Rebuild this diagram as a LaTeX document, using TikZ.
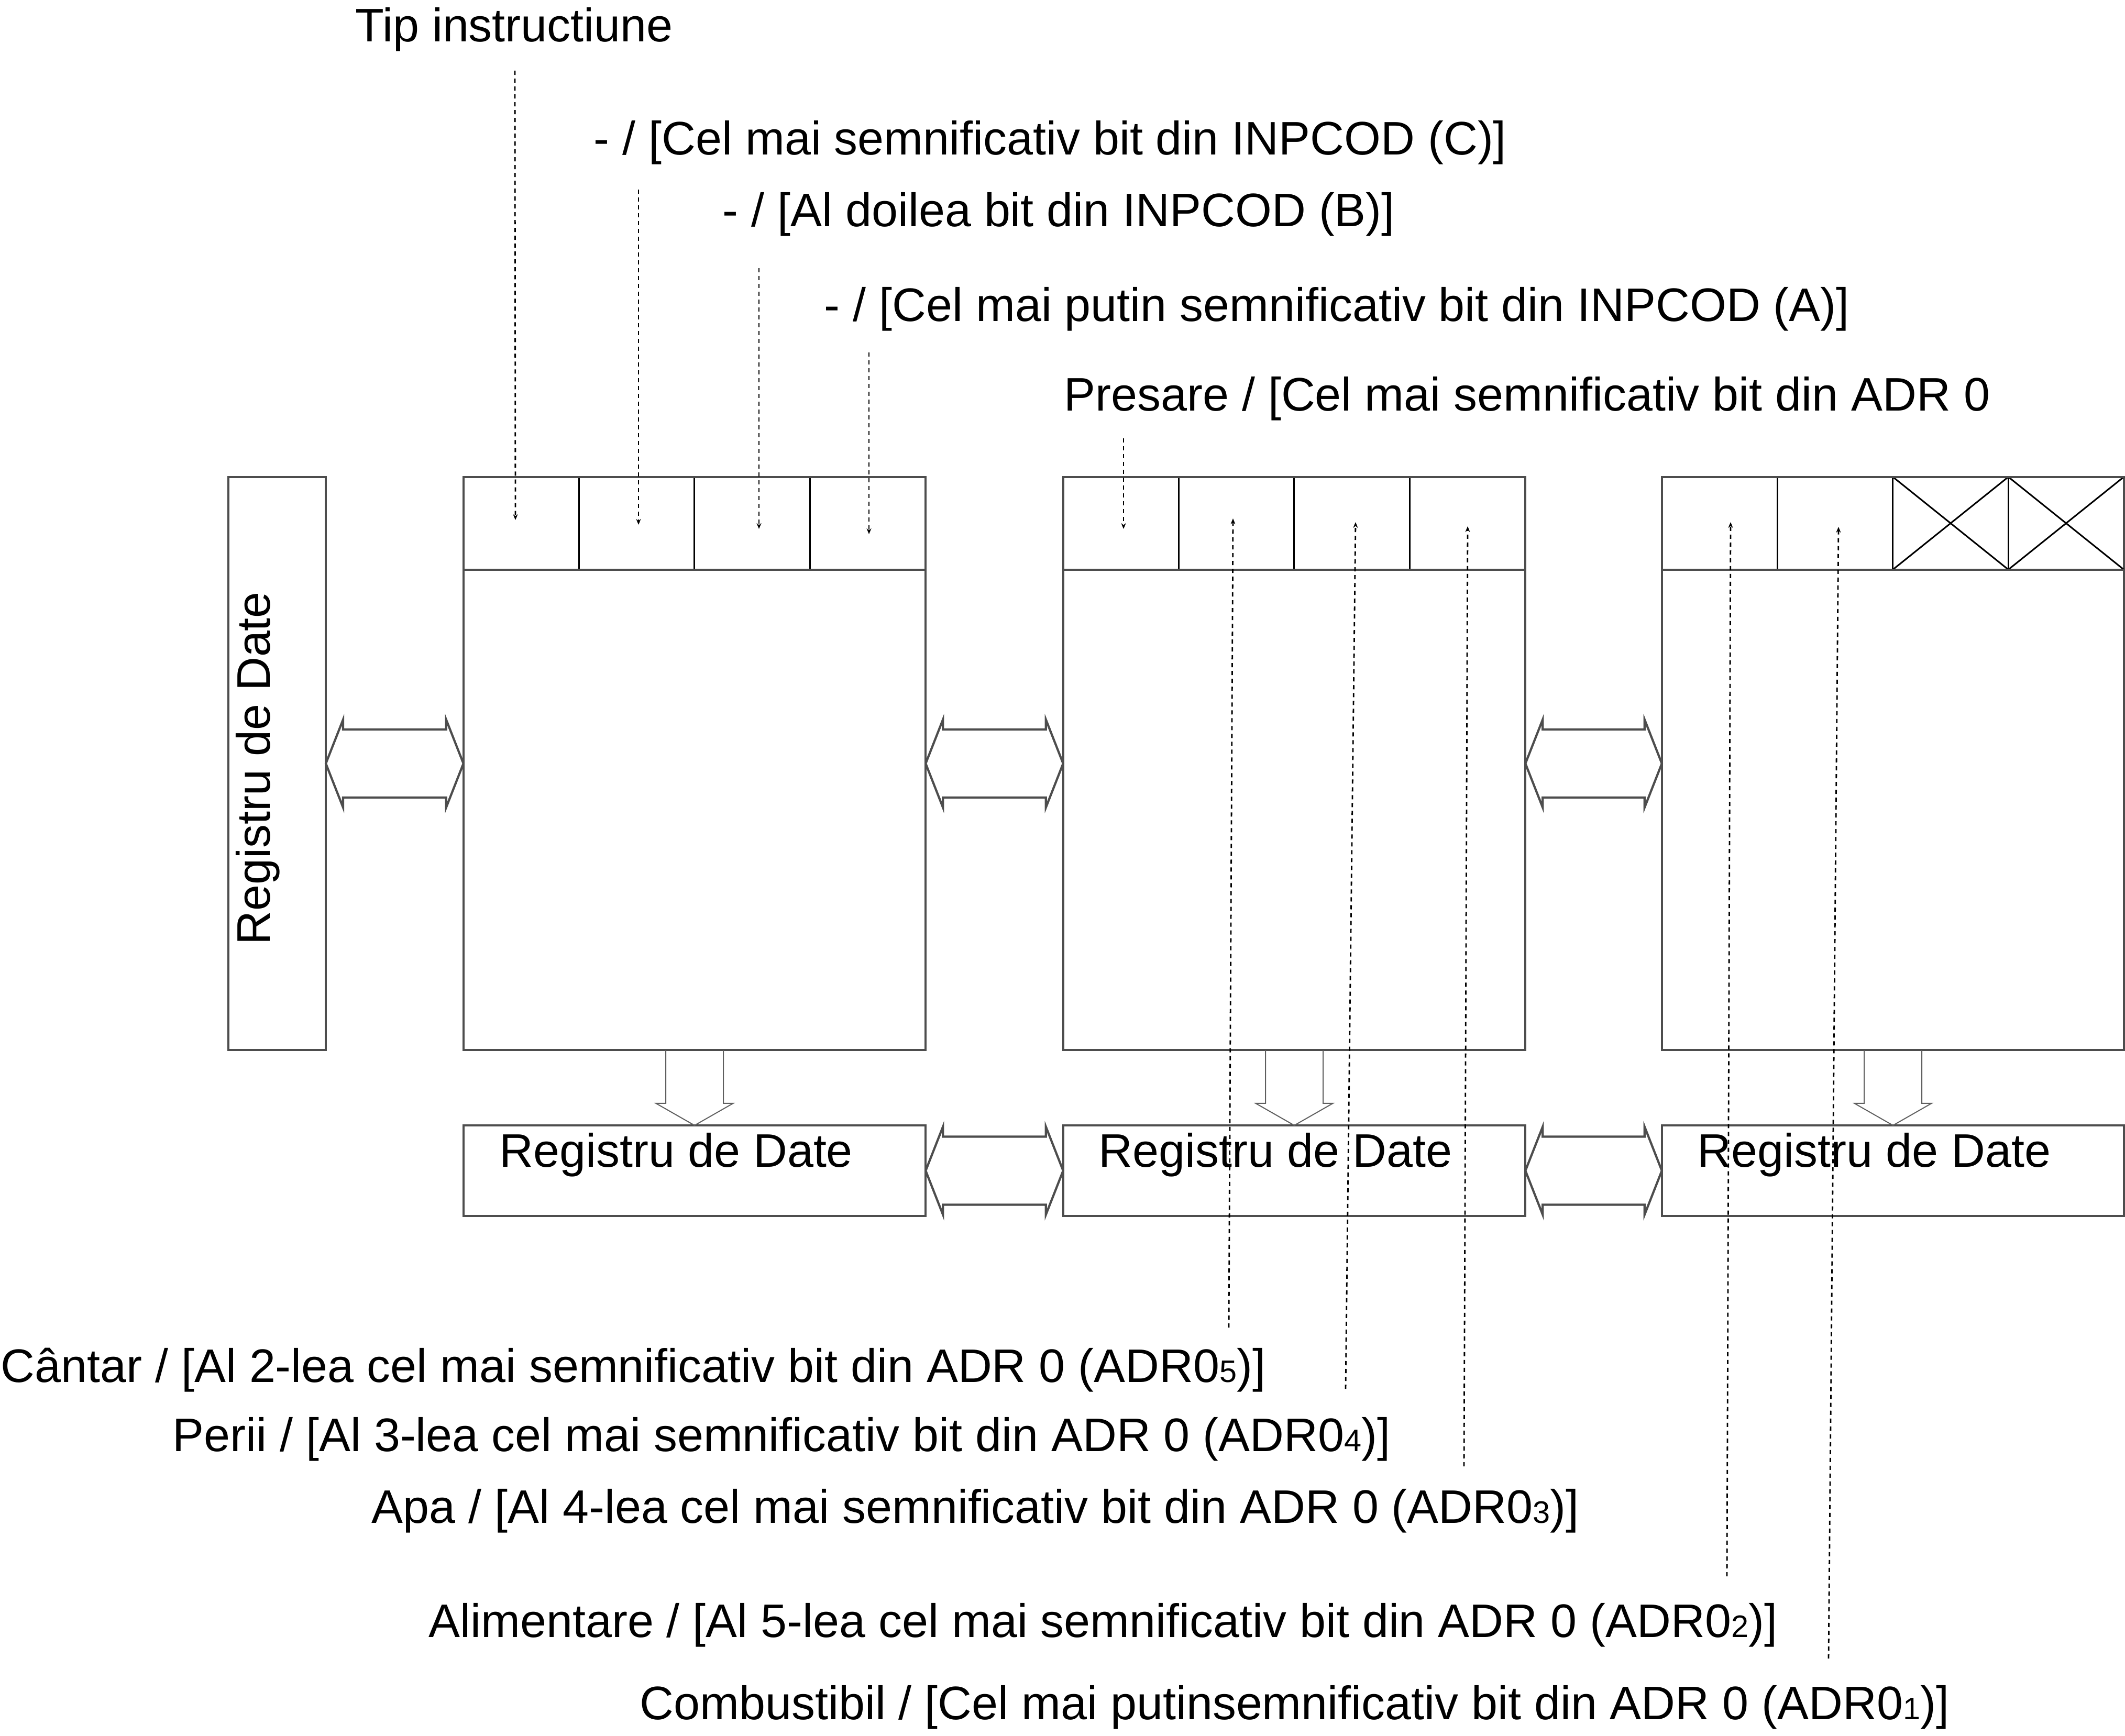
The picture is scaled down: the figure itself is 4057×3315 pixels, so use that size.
\documentclass[tikz,border=0pt]{standalone}
\usepackage{fontspec}
\setmainfont{Liberation Sans}
\usetikzlibrary{arrows.meta,calc}
\definecolor{bgray}{HTML}{4D4D4D}
\newcommand{\lblfont}{\fontsize{25.55}{30}\selectfont}
\newcommand{\subd}[1]{{\fontsize{16.9}{17}\selectfont #1}}
\newcommand{\dblarrow}[2]{\draw[dbl] (#1) -- ([shift={(33,-84)}]#1) -- ([shift={(33,-65)}]#1) -- ([shift={(-33,-65)}]#2) -- ([shift={(-33,-84)}]#2) -- (#2) -- ([shift={(-33,84)}]#2) -- ([shift={(-33,65)}]#2) -- ([shift={(33,65)}]#1) -- ([shift={(33,84)}]#1) -- cycle;}
\newcommand{\blkarrow}[2]{\draw[blk] ([shift={(-55,0)}]#1) -- ([shift={(-55,-42)}]#2) -- ([shift={(-73.5,-42)}]#2) -- (#2) -- ([shift={(73.5,-42)}]#2) -- ([shift={(55,-42)}]#2) -- ([shift={(55,0)}]#1);}
\begin{document}
\begin{tikzpicture}[x=0.01cm, y=-0.01cm,
  box/.style={draw=bgray, line width=0.042cm, inner sep=0, outer sep=0, rectangle},
  cellline/.style={draw=black, line width=0.03cm},
  hdrline/.style={draw=bgray, line width=0.042cm},
  dbl/.style={draw=bgray, line width=0.042cm, line join=miter},
  blk/.style={draw=bgray!90, line width=0.02cm},
  dasharr/.style={draw=black, line width=0.028cm, dash pattern=on 0.08cm off 0.07cm, -{Stealth[length=0.11cm,width=0.09cm]}},
  lbl/.style={font=\lblfont, inner sep=0, anchor=base west},
  boxtext/.style={font=\lblfont, inner sep=0, anchor=base}]
\useasboundingbox (0,0) rectangle (4057,3315);

% main boxes
\node[box, minimum width=1.86cm, minimum height=10.94cm] (lb) at (529,1458) {};
\node[box, minimum width=8.82cm, minimum height=10.94cm] (b1) at (1326,1458) {};
\node[box, minimum width=8.82cm, minimum height=10.94cm] (b2) at (2471,1458) {};
\node[box, minimum width=8.82cm, minimum height=10.94cm] (b3) at (3614,1458) {};
% bottom boxes
\node[box, minimum width=8.82cm, minimum height=1.73cm] (bb1) at (1326,2235.5) {};
\node[box, minimum width=8.82cm, minimum height=1.73cm] (bb2) at (2471,2235.5) {};
\node[box, minimum width=8.82cm, minimum height=1.73cm] (bb3) at (3614,2235.5) {};

% header cells
\foreach \b in {b1,b2,b3}{
  \foreach \k in {1,2,3}{
    \draw[cellline] ($(\b.north west)+(220.5*\k,0)$) -- ($(\b.north west)+(220.5*\k,177)$);
  }
}
\draw[cellline] ($(b3.north west)+(441,0)$) -- ($(b3.north west)+(661.5,177)$);
\draw[cellline] ($(b3.north west)+(661.5,0)$) -- ($(b3.north west)+(441,177)$);
\draw[cellline] ($(b3.north west)+(661.5,0)$) -- ($(b3.north west)+(882,177)$);
\draw[cellline] ($(b3.north west)+(882,0)$) -- ($(b3.north west)+(661.5,177)$);
\foreach \b in {b1,b2,b3}{
  \draw[hdrline] ($(\b.north west)+(0,177)$) -- ($(\b.north east)+(0,177)$);
  \draw[hdrline] (\b.north west) -- (\b.north east);
}

% texts in boxes
\node[boxtext, rotate=90] (lbt) at (515,1467) {Registru de Date};
\node[boxtext] (bt1) at (1291,2228) {Registru de Date};
\node[boxtext] (bt2) at (2435,2228) {Registru de Date};
\node[boxtext] (bt3) at (3578,2228) {Registru de Date};

% double arrows
\dblarrow{lb.east}{b1.west}
\dblarrow{b1.east}{b2.west}
\dblarrow{b2.east}{b3.west}
\dblarrow{bb1.east}{bb2.west}
\dblarrow{bb2.east}{bb3.west}

% block arrows down
\blkarrow{b1.south}{bb1.north}
\blkarrow{b2.south}{bb2.north}
\blkarrow{b3.south}{bb3.north}

% labels
\node[lbl] (tTip) at (678,80) {Tip instructiune};
\node[lbl] (tC) at (1133,295) {- / [Cel mai semnificativ bit din INPCOD (C)]};
\node[lbl] (tB) at (1379,432) {- / [Al doilea bit din INPCOD (B)]};
\node[lbl] (tA) at (1573,613) {- / [Cel mai putin semnificativ bit din INPCOD (A)]};
\node[lbl] (tP) at (2031,784) {Presare / [Cel mai semnificativ bit din ADR 0};
\node[lbl] (tCa) at (1,2639) {Cântar / [Al 2-lea cel mai semnificativ bit din ADR 0 (ADR0\subd{5})]};
\node[lbl] (tPe) at (329,2771) {Perii / [Al 3-lea cel mai semnificativ bit din ADR 0 (ADR0\subd{4})]};
\node[lbl] (tAp) at (709,2908) {Apa / [Al 4-lea cel mai semnificativ bit din ADR 0 (ADR0\subd{3})]};
\node[lbl] (tAl) at (818,3126) {Alimentare / [Al 5-lea cel mai semnificativ bit din ADR 0 (ADR0\subd{2})]};
\node[lbl] (tCo) at (1221,3283) {Combustibil / [Cel mai putinsemnificativ bit din ADR 0 (ADR0\subd{1})]};

% dashed arrow end points
\coordinate (sTip) at (983,135);  \coordinate (eTip) at (984,993);
\coordinate (sC) at (1219,362);   \coordinate (eC) at (1219,1002);
\coordinate (sB) at (1449,512);   \coordinate (eB) at (1449,1010);
\coordinate (sA) at (1659,673);   \coordinate (eA) at (1659,1020);
\coordinate (sP) at (2145,837);   \coordinate (eP) at (2145,1010);
\coordinate (sCa) at (2346,2535); \coordinate (eCa) at (2354,990);
\coordinate (sPe) at (2569,2652); \coordinate (ePe) at (2588,997);
\coordinate (sAp) at (2795,2800); \coordinate (eAp) at (2802,1005);
\coordinate (sAl) at (3297,3010); \coordinate (eAl) at (3304,997);
\coordinate (sCo) at (3491,3167); \coordinate (eCo) at (3510,1006);

\foreach \n in {Tip,C,B,A,P,Ca,Pe,Ap,Al,Co}{
  \draw[dasharr] (s\n) -- (e\n);
}
\end{tikzpicture}
\end{document}
